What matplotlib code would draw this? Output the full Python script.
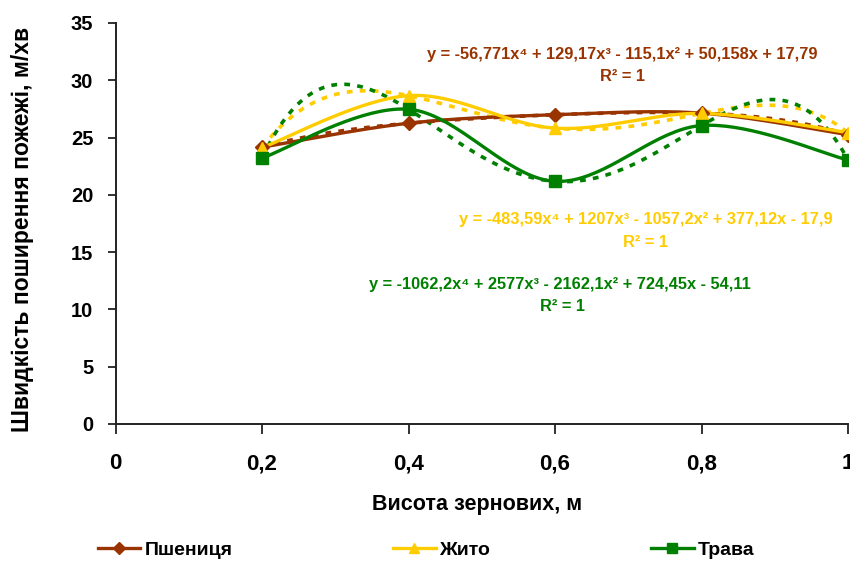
import numpy as np
import matplotlib
matplotlib.use('Agg')
import matplotlib.pyplot as plt

plt.rcParams['font.family'] = ['Liberation Sans', 'DejaVu Sans']
plt.rcParams['font.weight'] = 'bold'

heights = [0.2, 0.4, 0.6, 0.8, 1.0]
wheat = [24.16, 26.25, 26.99, 27.13, 25.25]
rye = [24.12, 28.66, 25.82, 27.11, 25.43]
grass = [23.21, 27.47, 21.18, 26.05, 23.04]

names = ['Пшениця', 'Жито', 'Трава']
colors = ['#993300', '#FFCC00', '#008000']
markers = ['D', '^', 's']
equations = [
    'y = -56,771x⁴ + 129,17x³ - 115,1x² + 50,158x + 17,79',
    'y = -483,59x⁴ + 1207x³ - 1057,2x² + 377,12x - 17,9',
    'y = -1062,2x⁴ + 2577x³ - 2162,1x² + 724,45x - 54,11',
]
x_ticks = [0, 0.2, 0.4, 0.6, 0.8, 1]
x_ticklabels = ['0', '0,2', '0,4', '0,6', '0,8', '1']
y_ticks = [0, 5, 10, 15, 20, 25, 30, 35]


def smooth(xs, ys, n=40):
    # excel-like smoothed line: catmull-rom through points, bezier segments
    xs = np.asarray(xs, float)
    ys = np.asarray(ys, float)
    px = np.concatenate([[xs[0]], xs, [xs[-1]]])
    py = np.concatenate([[ys[0]], ys, [ys[-1]]])
    outx, outy = [], []
    t = np.linspace(0, 1, n)
    for i in range(1, len(px) - 2):
        p0 = np.array([px[i], py[i]])
        p3 = np.array([px[i + 1], py[i + 1]])
        c1 = p0 + (p3 - np.array([px[i - 1], py[i - 1]])) / 6
        c2 = p3 - (np.array([px[i + 2], py[i + 2]]) - p0) / 6
        b = ((1 - t) ** 3)[:, None] * p0 + (3 * (1 - t) ** 2 * t)[:, None] * c1 \
            + (3 * (1 - t) * t ** 2)[:, None] * c2 + (t ** 3)[:, None] * p3
        outx.extend(b[:, 0])
        outy.extend(b[:, 1])
    return outx, outy


fig = plt.figure(figsize=(8.5, 5.66), dpi=100)
ax = fig.add_axes([0.1359, 0.2509, 0.8618, 0.7085])

series = [wheat, rye, grass]
handles = []
for vals, name, col, mk in zip(series, names, colors, markers):
    # polynomial trendline, order 4
    coef = np.polyfit(heights, vals, 4)
    tx = np.linspace(heights[0], heights[-1], 200)
    ax.plot(tx, np.polyval(coef, tx), color=col, lw=2.6, ls=(0, (1.6, 2.0)),
            dash_capstyle='butt', zorder=2)
    sx, sy = smooth(heights, vals)
    ax.plot(sx, sy, color=col, lw=2.4, zorder=3)
    ax.plot(heights, vals, ls='none', marker=mk, color=col,
            ms=8 if mk != 'D' else 7, zorder=4)
    h, = ax.plot([], [], color=col, lw=2.4, marker=mk, ms=7 if mk != 'D' else 6)
    handles.append(h)

eq_pos = [(0.692, 0.922), (0.724, 0.510), (0.607, 0.348)]
r2_pos = [(0.692, 0.866), (0.724, 0.453), (0.610, 0.294)]
for eq, col, (ex, ey), (rx, ry) in zip(equations, colors, eq_pos, r2_pos):
    ax.text(ex, ey, eq, transform=ax.transAxes, color=col, fontsize=11.8,
            fontweight='bold', ha='center', va='center')
    ax.text(rx, ry, 'R² = 1', transform=ax.transAxes, color=col, fontsize=11.8,
            fontweight='bold', ha='center', va='center')

ax.set_xlim(0, 1)
ax.set_ylim(0, 35)
ax.set_xticks(x_ticks)
ax.set_xticklabels(x_ticklabels, fontsize=16, fontweight='bold')
ax.set_yticks(y_ticks)
ax.set_yticklabels([str(v) for v in y_ticks], fontsize=14.5, fontweight='bold')
ax.tick_params(axis='x', direction='out', length=7, width=1.3, pad=14, colors='#222222')
ax.tick_params(axis='y', direction='out', length=6, width=1.3, pad=10, colors='#222222')
for lbl in ax.get_xticklabels() + ax.get_yticklabels():
    lbl.set_color('black')
for side in ['top', 'right']:
    ax.spines[side].set_visible(False)
for side in ['left', 'bottom']:
    ax.spines[side].set_linewidth(1.4)
    ax.spines[side].set_color('#222222')

ax.set_xlabel('Висота зернових, м', fontsize=15.5, fontweight='bold')
ax.xaxis.set_label_coords(0.4935, -0.2)
ax.xaxis.label.set_va('center')
ax.set_ylabel('Швидкість поширення пожежі, м/хв', fontsize=16.5, fontweight='bold')
ax.yaxis.set_label_coords(-0.1276, 0.484)
ax.yaxis.label.set_va('center')

fig.legend(handles, names, loc='center', bbox_to_anchor=(0.501, 0.028), ncol=3,
           frameon=False, columnspacing=8.25, handlelength=2.2, handletextpad=0.2,
           prop={'size': 14, 'weight': 'bold'})

fig.savefig('out.png', dpi=100)
